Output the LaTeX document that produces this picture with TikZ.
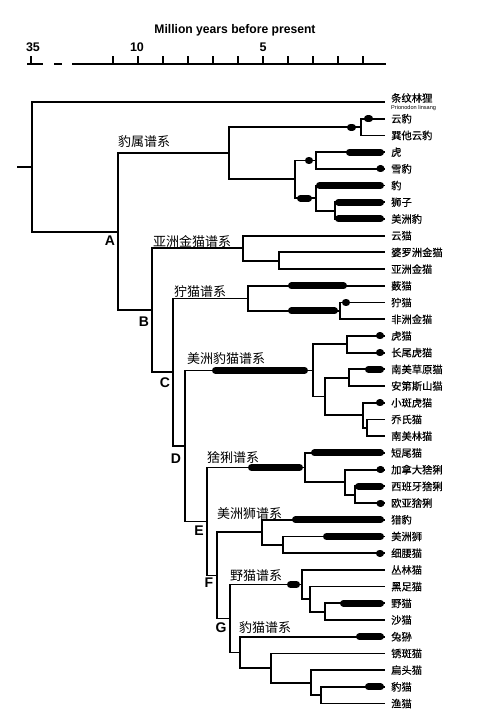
\documentclass[tikz,border=0pt]{standalone}
\usepackage{fontspec}
\setmainfont{Liberation Sans}
\newfontfamily\cjk{Noto Sans CJK SC}
\newfontfamily\cjkb[FakeBold=0.3]{Noto Sans CJK SC}
\begin{document}
\begin{tikzpicture}[x=1pt,y=-1pt,
  br/.style={line width=1.8pt,line cap=rect},
  bar/.style={line width=7pt,line cap=round},
  leaf/.style={font=\cjkb\fontsize{10.3}{12}\selectfont,anchor=west,inner sep=0pt},
  lin/.style={font=\cjk\fontsize{13}{15}\selectfont,anchor=west,inner sep=0pt},
  lab/.style={font=\bfseries\fontsize{14}{16}\selectfont,inner sep=0pt},
  num/.style={font=\bfseries\fontsize{12.5}{14}\selectfont,inner sep=0pt}]
\useasboundingbox (0,0) rectangle (500,723);
% time axis
\node[font=\bfseries\fontsize{12.5}{14}\selectfont,inner sep=0pt,xscale=0.97] (title) at (235,30) {Million years before present};
\node[num] (t35) at (33,47) {35};
\node[num] (t10) at (137,47) {10};
\node[num] (t5) at (263,47) {5};
\draw[line width=1.8pt] (72,64) -- (386,64);
\foreach \t in {1,...,11} \draw[line width=1.8pt] ({388-25*\t},64) -- ({388-25*\t},56);
\draw[line width=1.8pt] (27,64) -- (43,64) (31,64) -- (31,56) (54,64) -- (62,64);
% leaf labels
\node[leaf] (L0) at (391,98) {条纹林狸};
\node[font=\fontsize{5.6}{6}\selectfont,anchor=west,inner sep=0pt] (L0b) at (391,108) {Prionodon linsang};
\foreach \n [count=\i from 1] in {云豹,巽他云豹,虎,雪豹,豹,狮子,美洲豹,云猫,婆罗洲金猫,亚洲金猫,薮猫,狞猫,非洲金猫,虎猫,长尾虎猫,南美草原猫,安第斯山猫,小斑虎猫,乔氏猫,南美林猫,短尾猫,加拿大猞猁,西班牙猞猁,欧亚猞猁,猎豹,美洲狮,细腰猫,丛林猫,黑足猫,野猫,沙猫,兔狲,锈斑猫,扁头猫,豹猫,渔猫}
  \node[leaf] (L\i) at (391,{102+16.71*\i}) {\n};
% leaf branches
\foreach \i/\px in {0/32,1/361,2/361,3/316,4/316,5/316,6/335,7/335,8/243,9/279,10/279,11/248,12/340,13/340,14/347,15/347,16/349,17/349,18/363,19/367,20/367,21/305,22/345,23/355,24/355,25/262,26/283,27/283,28/302,29/310,30/325,31/325,32/240,33/271,34/311,35/321,36/321}
  \draw[br] (\px,{102+16.71*\i}) -- (384,{102+16.71*\i});
% internal horizontal branches
\foreach \a/\b/\y in {18/32/166.9,32/118/231.7,118/229/153.2,229/361/127.1,229/295/179.3,295/316/160.5,295/316/198.1,316/335/210.6,
  118/152/310.2,152/243/248.2,243/279/260.7,152/173/372.2,173/248/298.4,248/340/310.9,173/185/445.9,185/313/370.4,313/347/344.3,
  313/325/396.5,325/349/377.7,325/363/415.3,363/367/427.8,185/207/521.4,207/305/467.5,305/345/482.1,345/355/494.7,207/217/575.4,
  217/262/532.3,262/283/544.8,217/230/618.4,230/302/584.5,302/310/599.1,310/325/611.7,230/240/652.4,240/271/668.0,271/311/682.7,311/321/695.2}
  \draw[br] (\a,\y) -- (\b,\y);
% internal vertical lines (clades)
\foreach \x/\a/\b in {32/102/231.7,118/153.2/310.2,229/127.1/179.3,361/118.71/135.42,295/160.5/198.1,316/152.13/168.84,316/185.55/210.6,
  335/202.26/218.97,152/248.2/372.2,243/235.68/260.7,279/252.39/269.1,173/298.4/445.9,248/285.81/310.9,340/302.52/319.23,
  185/370.4/521.4,313/344.3/396.5,347/335.94/352.65,325/377.7/415.3,349/369.36/386.07,363/402.78/427.8,367/419.49/436.2,
  207/467.5/575.4,305/452.91/482.1,345/469.62/494.7,355/486.33/503.04,217/532.3/618.4,262/519.75/544.8,283/536.46/553.17,
  230/584.5/652.4,302/569.88/599.1,310/586.59/611.7,325/603.3/620.01,240/636.72/668.0,271/653.43/682.7,311/670.14/695.2,321/686.85/703.56}
  \draw[br] (\x,\a) -- (\x,\b);
% thick bars
\foreach \a/\b/\y in {350.5/352.5/127.1,367.5/369.5/118.71,308.5/309.5/160.5,349.5/380.5/152.13,380/381/168.84,300.5/308.5/198.1,
  319.5/380.5/185.55,338.5/380.5/202.26,338.5/380.5/218.97,291.5/343.5/285.81,291.5/334.5/310.9,345.5/346.5/302.52,
  215.5/304.5/370.4,379.5/380.5/335.94,379.5/380.5/352.65,368.5/380.5/369.36,379.5/380.5/402.78,
  251.5/299.5/467.5,314.5/380.5/452.91,380/381/469.62,358.5/380.5/486.33,380/381/503.04,
  295.5/380.5/519.75,326.5/380.5/536.46,379.5/380.5/553.17,290.5/296.5/584.5,343.5/380.5/603.3,
  359.5/380.5/636.72,368.5/380.5/686.85}
  \draw[bar] (\a,\y) -- (\b,\y);
% lineage labels
\node[lin] (n1) at (118,142) {豹属谱系};
\node[lin] (n2) at (153,241) {亚洲金猫谱系};
\node[lin] (n3) at (174,292) {狞猫谱系};
\node[lin] (n4) at (187,359) {美洲豹猫谱系};
\node[lin] (n5) at (207,458) {猞猁谱系};
\node[lin] (n6) at (217,514) {美洲狮谱系};
\node[lin] (n7) at (230,576) {野猫谱系};
\node[lin] (n8) at (239,628) {豹猫谱系};
% node letters
\node[lab] (A) at (110,241) {A};
\node[lab] (B) at (144,322) {B};
\node[lab] (C) at (165,383) {C};
\node[lab] (D) at (176,459) {D};
\node[lab] (E) at (199,531) {E};
\node[lab] (F) at (209,583) {F};
\node[lab] (G) at (221,628) {G};
\end{tikzpicture}
\end{document}
